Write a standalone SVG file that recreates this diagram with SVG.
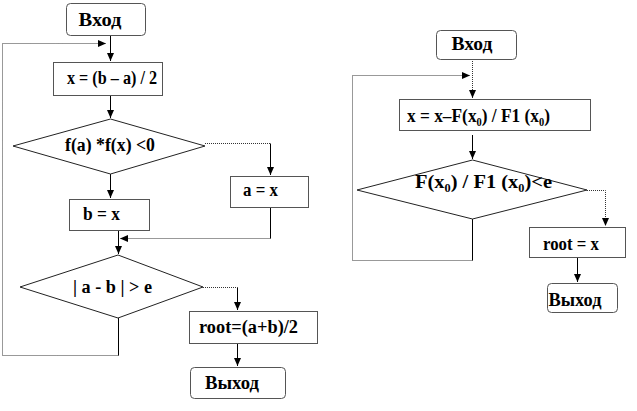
<svg xmlns="http://www.w3.org/2000/svg" width="637" height="411" viewBox="0 0 637 411">
<defs>
<marker id="ah" viewBox="0 0 8 8" refX="8" refY="4" markerWidth="8" markerHeight="8" markerUnits="userSpaceOnUse" orient="auto">
<path d="M0,0.5 L8,4 L0,7.5 Z" fill="#000"/>
</marker>
<style>
.box{fill:#fff;stroke:#555;stroke-width:1}
.dia{fill:#fff;stroke:#222;stroke-width:1}
.v{fill:none;stroke:#000;stroke-width:1}
.h{fill:none;stroke:#333;stroke-width:1;stroke-dasharray:1 1}
.t{font-family:'Liberation Serif','Times New Roman',serif;font-weight:bold;font-size:18px;fill:#000}
</style>
</defs>
<rect width="637" height="411" fill="#fff"/>
<g id="connectors">
<path class="v" d="M110.5,35 V61" marker-end="url(#ah)"/>
<path class="v" d="M118.5,318 V355.5"/>
<path class="h" d="M118.5,355.5 H2.5 V43.5 H106" marker-end="url(#ah)"/>
<path class="v" d="M110.5,95 V118" marker-end="url(#ah)"/>
<path class="h" d="M205,143.5 H270.5"/>
<path class="v" d="M270.5,143.5 V175" marker-end="url(#ah)"/>
<path class="v" d="M110.5,174 V198" marker-end="url(#ah)"/>
<path class="v" d="M270.5,207 V238.5"/>
<path class="h" d="M270.5,238.5 H120" marker-end="url(#ah)"/>
<path class="v" d="M118.5,230 V254" marker-end="url(#ah)"/>
<path class="h" d="M203,287.5 H237.5"/>
<path class="v" d="M237.5,287.5 V310" marker-end="url(#ah)"/>
<path class="v" d="M237.5,343 V366" marker-end="url(#ah)"/>
<path class="h" d="M472.5,59 V98" marker-end="url(#ah)"/>
<path class="v" d="M472.5,219 V260.5"/>
<path class="h" d="M472.5,260.5 H352.5 V75.5 H470" marker-end="url(#ah)"/>
<path class="v" d="M472.5,135 V159" marker-end="url(#ah)"/>
<path class="h" d="M587,190.5 H605.5 V226" marker-end="url(#ah)"/>
<path class="v" d="M577.5,257 V282" marker-end="url(#ah)"/>
</g>
<g id="start1">
<rect class="box" x="66.5" y="3.5" width="79" height="32" rx="4"/>
<text class="t" x="100" y="26" text-anchor="middle" textLength="43" lengthAdjust="spacingAndGlyphs">Вход</text>
</g>
<g id="calc1">
<rect class="box" x="53.5" y="62.5" width="109" height="33"/>
<text class="t" x="67" y="84" textLength="90" lengthAdjust="spacingAndGlyphs">x = (b – a) / 2</text>
</g>
<g id="cond1">
<polygon class="dia" points="110.5,119 205,146 110.5,174 13,146"/>
<text class="t" x="65" y="151" textLength="90" lengthAdjust="spacingAndGlyphs">f(a) *f(x) &lt;0</text>
</g>
<g id="setA">
<rect class="box" x="230.5" y="176.5" width="78" height="31"/>
<text class="t" x="243" y="196" textLength="35" lengthAdjust="spacingAndGlyphs">a = x</text>
</g>
<g id="setB">
<rect class="box" x="69.5" y="199.5" width="80" height="31"/>
<text class="t" x="83" y="220" textLength="37" lengthAdjust="spacingAndGlyphs">b = x</text>
</g>
<g id="cond2">
<polygon class="dia" points="118,255 203,287 118,318 20,287"/>
<text class="t" x="73" y="293" textLength="79" lengthAdjust="spacingAndGlyphs">| a - b | &gt; e</text>
</g>
<g id="root1">
<rect class="box" x="189.5" y="311.5" width="128" height="32"/>
<text class="t" x="199" y="333" textLength="99" lengthAdjust="spacingAndGlyphs">root=(a+b)/2</text>
</g>
<g id="end1">
<rect class="box" x="190.5" y="367.5" width="95" height="31" rx="4"/>
<text class="t" x="232" y="389" text-anchor="middle" textLength="54" lengthAdjust="spacingAndGlyphs">Выход</text>
</g>
<g id="start2">
<rect class="box" x="436.5" y="30.5" width="80" height="29" rx="4"/>
<text class="t" x="472" y="50" text-anchor="middle" textLength="41" lengthAdjust="spacingAndGlyphs">Вход</text>
</g>
<g id="calc2">
<rect class="box" x="399.5" y="99.5" width="191" height="31"/>
<text class="t" x="407" y="122" textLength="143" lengthAdjust="spacingAndGlyphs">x = x–F(x₀) / F1 (x₀)</text>
</g>
<g id="cond3">
<polygon class="dia" points="472.5,160 587,190 472.5,219 357,190"/>
<text class="t" x="415" y="188" textLength="137" lengthAdjust="spacingAndGlyphs">F(x₀) / F1 (x₀)&lt;e</text>
</g>
<g id="root2">
<rect class="box" x="529.5" y="227.5" width="96" height="30"/>
<text class="t" x="543" y="250" textLength="56" lengthAdjust="spacingAndGlyphs">root = x</text>
</g>
<g id="end2">
<rect class="box" x="547.5" y="283.5" width="70" height="29" rx="4"/>
<text class="t" x="575" y="306" text-anchor="middle" textLength="53" lengthAdjust="spacingAndGlyphs">Выход</text>
</g>
</svg>
